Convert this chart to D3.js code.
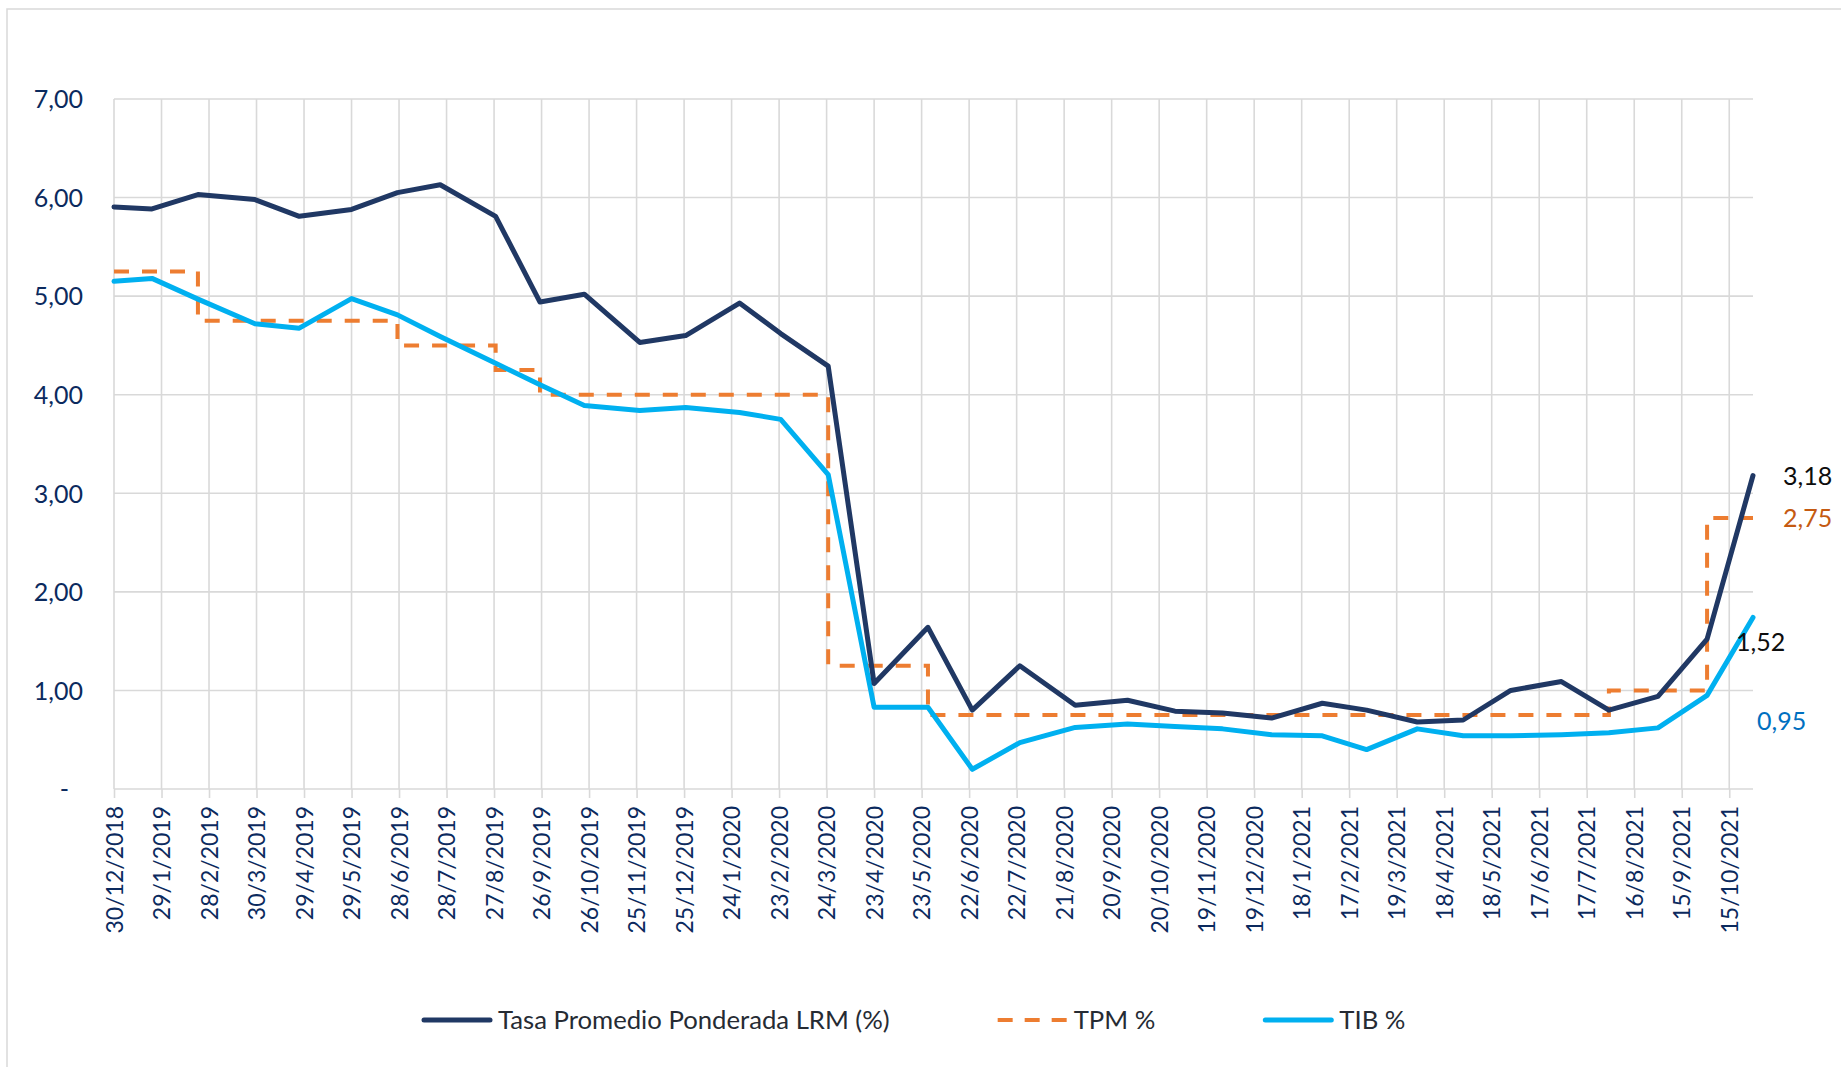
<!DOCTYPE html>
<html>
<head>
<meta charset="utf-8">
<script src="https://cdn.jsdelivr.net/npm/d3@7"></script>
<style>
  body { margin: 0; background: #ffffff; }
  text { font-family: Lato, "Open Sans", sans-serif; }
</style>
</head>
<body>
<div id="chart"></div>
<script>
// Chart data
var dates = ["2018-12-30", "2019-01-23", "2019-02-21", "2019-03-29", "2019-04-26", "2019-05-29",
  "2019-06-27", "2019-07-24", "2019-08-28", "2019-09-25", "2019-10-23", "2019-11-27",
  "2019-12-26", "2020-01-29", "2020-02-24", "2020-03-25", "2020-04-23", "2020-05-27",
  "2020-06-24", "2020-07-24", "2020-08-28", "2020-09-30", "2020-10-30", "2020-11-29",
  "2020-12-30", "2021-01-31", "2021-02-28", "2021-04-01", "2021-04-30", "2021-05-30",
  "2021-07-01", "2021-07-31", "2021-08-31", "2021-10-01", "2021-10-30"];

var lrm = [5.905, 5.885, 6.03, 5.98, 5.81, 5.88, 6.05, 6.13, 5.81, 4.94, 5.02, 4.53,
  4.60, 4.93, 4.62, 4.29, 1.07, 1.64, 0.80, 1.25, 0.85, 0.90, 0.79, 0.77,
  0.72, 0.87, 0.80, 0.68, 0.70, 1.00, 1.09, 0.80, 0.94, 1.52, 3.18];

var tpm = [5.25, 5.25, 4.75, 4.75, 4.75, 4.75, 4.5, 4.5, 4.25, 4.0, 4.0, 4.0,
  4.0, 4.0, 4.0, 1.25, 1.25, 0.75, 0.75, 0.75, 0.75, 0.75, 0.75, 0.75,
  0.75, 0.75, 0.75, 0.75, 0.75, 0.75, 0.75, 1.0, 1.0, 2.75, 2.75];

var tib = [5.15, 5.18, 4.97, 4.72, 4.675, 4.975, 4.81, 4.59, 4.32, 4.10, 3.89, 3.84,
  3.87, 3.82, 3.75, 3.19, 0.83, 0.83, 0.20, 0.47, 0.625, 0.66, 0.635, 0.61,
  0.55, 0.54, 0.40, 0.61, 0.54, 0.54, 0.55, 0.57, 0.62, 0.95, 1.74];

var xTickLabels = ["30/12/2018", "29/1/2019", "28/2/2019", "30/3/2019", "29/4/2019", "29/5/2019",
  "28/6/2019", "28/7/2019", "27/8/2019", "26/9/2019", "26/10/2019", "25/11/2019",
  "25/12/2019", "24/1/2020", "23/2/2020", "24/3/2020", "23/4/2020", "23/5/2020",
  "22/6/2020", "22/7/2020", "21/8/2020", "20/9/2020", "20/10/2020", "19/11/2020",
  "19/12/2020", "18/1/2021", "17/2/2021", "19/3/2021", "18/4/2021", "18/5/2021",
  "17/6/2021", "17/7/2021", "16/8/2021", "15/9/2021", "15/10/2021"];

var yTicks = [0, 1, 2, 3, 4, 5, 6, 7];

var seriesNames = ["Tasa Promedio Ponderada LRM (%)", "TPM %", "TIB %"];

// svg wrapper dimensions
var svgWidth = 1841;
var svgHeight = 1067;

var margin = { top: 99, right: 88, bottom: 278, left: 114 };
var width = svgWidth - margin.left - margin.right;
var height = svgHeight - margin.top - margin.bottom;

var colors = { lrm: "#203864", tpm: "#ed7d31", tib: "#00b0f0", grid: "#d9d9d9", axis: "#0b2a5e" };

var svg = d3.select("#chart")
  .append("svg")
  .attr("width", svgWidth)
  .attr("height", svgHeight);

// chart frame (top and left edges visible)
svg.append("path")
  .attr("d", `M7,${svgHeight + 2} L7,9 L${svgWidth + 2},9`)
  .attr("fill", "none")
  .attr("stroke", colors.grid)
  .attr("stroke-width", 1.5);

var chartGroup = svg.append("g")
  .attr("transform", `translate(${margin.left}, ${margin.top})`);

var parseDate = d3.utcParse("%Y-%m-%d");
var parseTick = d3.utcParse("%d/%m/%Y");

var rows = dates.map(function(d, i) {
  return { date: parseDate(d), lrm: lrm[i], tpm: tpm[i], tib: tib[i] };
});
var tickDates = xTickLabels.map(parseTick);

// scales
var xScale = d3.scaleUtc()
  .domain([tickDates[0], rows[rows.length - 1].date])
  .range([0, width]);

var yScale = d3.scaleLinear()
  .domain([0, 7])
  .range([height, 0]);

var locale = d3.formatLocale({ decimal: ",", thousands: ".", grouping: [3], currency: ["$", ""] });
var fmt = locale.format(".2f");

// gridlines
chartGroup.append("g")
  .selectAll("line")
  .data(yTicks)
  .enter()
  .append("line")
  .attr("x1", 0)
  .attr("x2", width)
  .attr("y1", d => yScale(d))
  .attr("y2", d => yScale(d))
  .attr("stroke", colors.grid)
  .attr("stroke-width", 1.6);

chartGroup.append("g")
  .selectAll("line")
  .data(tickDates)
  .enter()
  .append("line")
  .attr("x1", d => xScale(d))
  .attr("x2", d => xScale(d))
  .attr("y1", 0)
  .attr("y2", height)
  .attr("stroke", colors.grid)
  .attr("stroke-width", 1.6);

// y axis
var leftAxis = d3.axisLeft(yScale)
  .tickValues(yTicks)
  .tickSize(0)
  .tickPadding(31)
  .tickFormat(d => d === 0 ? "-" : fmt(d));

var yAxis = chartGroup.append("g").call(leftAxis);
yAxis.select(".domain").remove();
yAxis.selectAll("text")
  .attr("fill", colors.axis)
  .attr("font-size", 25)
  .attr("dy", "0.35em")
  .filter(d => d === 0)
  .attr("dx", -14);

// x axis
var bottomAxis = d3.axisBottom(xScale)
  .tickValues(tickDates)
  .tickSize(9)
  .tickFormat((d, i) => xTickLabels[i]);

var xAxis = chartGroup.append("g")
  .attr("transform", `translate(0, ${height})`)
  .call(bottomAxis);
xAxis.select(".domain").remove();
xAxis.selectAll(".tick line")
  .attr("stroke", colors.grid)
  .attr("stroke-width", 1.6);
xAxis.selectAll("text")
  .attr("transform", "rotate(-90)")
  .attr("text-anchor", "end")
  .attr("x", -17)
  .attr("y", 0)
  .attr("dy", "0.35em")
  .attr("fill", colors.axis)
  .attr("font-size", 23);

// lines
var lineFor = function(key, curve) {
  return d3.line()
    .x(d => xScale(d.date))
    .y(d => yScale(d[key]))
    .curve(curve || d3.curveLinear);
};

chartGroup.append("path")
  .datum(rows)
  .attr("d", lineFor("tpm", d3.curveStepAfter))
  .attr("fill", "none")
  .attr("stroke", colors.tpm)
  .attr("stroke-width", 4)
  .attr("stroke-dasharray", "15,13");

chartGroup.append("path")
  .datum(rows)
  .attr("d", lineFor("tib"))
  .attr("fill", "none")
  .attr("stroke", colors.tib)
  .attr("stroke-width", 5)
  .attr("stroke-linejoin", "round")
  .attr("stroke-linecap", "round");

chartGroup.append("path")
  .datum(rows)
  .attr("d", lineFor("lrm"))
  .attr("fill", "none")
  .attr("stroke", colors.lrm)
  .attr("stroke-width", 5)
  .attr("stroke-linejoin", "round")
  .attr("stroke-linecap", "round");

// data labels
var last = rows[rows.length - 1];
var prev = rows[rows.length - 2];
var labels = [
  { d: last, key: "lrm", dx: 30, dy: 1, color: "#0d0d0d" },
  { d: last, key: "tpm", dx: 30, dy: 0, color: "#c55a11" },
  { d: prev, key: "lrm", dx: 29, dy: 3, color: "#0d0d0d" },
  { d: prev, key: "tib", dx: 50, dy: 26, color: "#0070c0" }
];

chartGroup.append("g")
  .selectAll("text")
  .data(labels)
  .enter()
  .append("text")
  .attr("x", l => xScale(l.d.date) + l.dx)
  .attr("y", l => yScale(l.d[l.key]) + l.dy)
  .attr("dy", "0.35em")
  .attr("fill", l => l.color)
  .attr("font-size", 25)
  .text(l => fmt(l.d[l.key]));

// legend
var legendItems = [
  { name: seriesNames[0], color: colors.lrm, dash: null, width: 5 },
  { name: seriesNames[1], color: colors.tpm, dash: "15,12", width: 4 },
  { name: seriesNames[2], color: colors.tib, dash: null, width: 5 }
];

var legend = svg.append("g")
  .attr("transform", "translate(422, 1020)");

var cursor = 0;
legendItems.forEach(function(item) {
  var g = legend.append("g").attr("transform", `translate(${cursor}, 0)`);
  g.append("line")
    .attr("x1", item.dash ? 0 : 2)
    .attr("x2", item.dash ? 70 : 68)
    .attr("y1", 0)
    .attr("y2", 0)
    .attr("stroke", item.color)
    .attr("stroke-width", item.width)
    .attr("stroke-linecap", item.dash ? "butt" : "round")
    .attr("stroke-dasharray", item.dash);
  var t = g.append("text")
    .attr("x", 76)
    .attr("y", 0)
    .attr("dy", "0.35em")
    .attr("fill", "#262b33")
    .attr("font-size", 25.7)
    .text(item.name);
  cursor += 76 + t.node().getComputedTextLength() + 108;
});
</script>
</body>
</html>
